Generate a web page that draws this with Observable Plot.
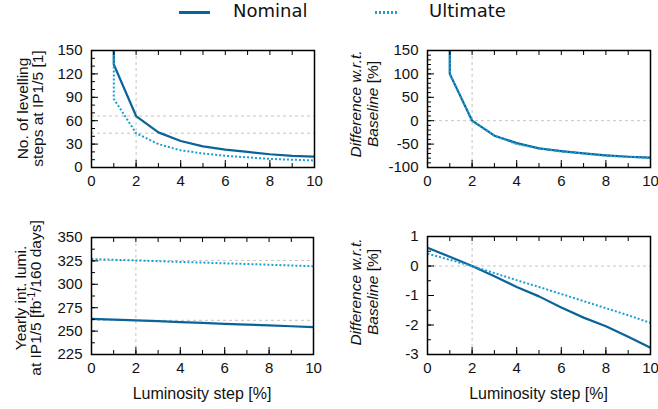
<!DOCTYPE html>
<html><head><meta charset="utf-8">
<script src="https://cdn.jsdelivr.net/npm/d3@7"></script>
<script src="https://cdn.jsdelivr.net/npm/@observablehq/plot@0.6"></script>
<style>
body{margin:0;background:#fff;}
#root{position:relative;width:658px;height:409px;overflow:hidden;background:#fff;}
.panel{position:absolute;}
.lg{position:absolute;font-family:"DejaVu Sans",sans-serif;font-size:18px;line-height:21px;color:#111;white-space:nowrap;}
.sw{position:absolute;}
</style></head>
<body><div id="root">
<span class="sw" style="left:179px;top:11px;width:31px;height:3px;background:#0a6399"></span>
<span class="lg" style="left:233px;top:0px">Nominal</span>
<span class="sw" style="left:375px;top:11px;width:24px;height:3px;background:repeating-linear-gradient(to right,#1a9ed4 0 2px,transparent 2px 4px)"></span>
<span class="lg" style="left:429px;top:0px">Ultimate</span>
</div>
<script>
// ---- data ----
const levelX = [1, 1, 2, 3, 4, 5, 6, 7, 8, 9, 10];
const levelNominal = [150, 132, 66, 45, 34, 27, 23, 20, 17, 15, 14];
const levelUltimate = [150, 88, 44, 30, 22, 18, 15, 13, 11, 10, 9];
const levelDiffNominal = [150, 100, 0, -32, -48, -59, -65, -70, -74, -77, -79];
const levelDiffUltimate = [150, 100, 0, -32, -50, -59, -66, -70, -75, -77, -80];
const lumiX = [0, 1, 2, 3, 4, 5, 6, 7, 8, 9, 10];
const lumiNominal = [263.1, 262.3, 261.5, 260.6, 259.6, 258.8, 257.8, 256.9, 256.2, 255.2, 254.3];
const lumiUltimate = [326.9, 326.2, 325.5, 324.7, 323.9, 323.2, 322.4, 321.7, 320.9, 320.1, 319.2];
const lumiDiffNominal = [0.62, 0.31, 0, -0.35, -0.71, -1.03, -1.41, -1.75, -2.04, -2.40, -2.77];
const lumiDiffUltimate = [0.42, 0.21, 0, -0.24, -0.48, -0.71, -0.95, -1.19, -1.43, -1.67, -1.93];
const xMajor = [0, 2, 4, 6, 8, 10];
const xMinor = [0, 1, 2, 3, 4, 5, 6, 7, 8, 9, 10];
const baselineStep = 2;

const C_NOM = "#0a6399", C_ULT = "#1a9ed4";
const FONT = "Liberation Sans, Arial, sans-serif";

function range(a, b, s) { const r = []; for (let v = a; v <= b + 1e-9; v += s) r.push(+v.toFixed(6)); return r; }
function pairs(xs, ys) { return xs.map((x, i) => ({x, y: ys[i]})); }

function panel(o) {
  const nom = pairs(o.xs, o.nom), ult = pairs(o.xs, o.ult);
  const plot = Plot.plot({
    width: o.width, height: o.height,
    marginLeft: o.ml, marginRight: o.mr, marginTop: o.mt, marginBottom: o.mb,
    style: {fontFamily: FONT, fontSize: "15px", color: "#111", background: "transparent", overflow: "visible"},
    x: {domain: [0, 10]},
    y: {domain: o.yDomain},
    marks: [
      Plot.ruleX([baselineStep], {stroke: "#c4c4c4", strokeDasharray: "3,3", strokeWidth: 1}),
      Plot.ruleY(o.refY, {stroke: "#c4c4c4", strokeDasharray: "3,3", strokeWidth: 1}),
      Plot.line(nom, {x: "x", y: "y", stroke: C_NOM, strokeWidth: 2.2, clip: true}),
      Plot.line(ult, {x: "x", y: "y", stroke: C_ULT, strokeWidth: 2, strokeDasharray: "2,2", strokeLinecap: "butt", strokeLinejoin: "miter", clip: true}),
      Plot.frame({stroke: "#000", strokeWidth: 1.5}),
      Plot.axisY({ticks: o.yMinor, tickSize: -4, fill: "none", stroke: "#000", label: null}),
      Plot.axisY({ticks: o.yMajor, tickSize: -7, fill: "none", stroke: "#000", label: null}),
      Plot.axisY({ticks: o.yMajor, tickSize: 0, tickPadding: 9, tickFormat: d => String(d), fill: "#111", label: null, fontSize: 15}),
      Plot.axisX({ticks: xMinor, tickSize: -4, fill: "none", stroke: "#000", label: null}),
      Plot.axisX({ticks: xMajor, tickSize: -7, fill: "none", stroke: "#000", label: null}),
      Plot.axisX({anchor: "top", ticks: xMinor, tickSize: -4, fill: "none", stroke: "#000", label: null}),
      Plot.axisX({ticks: xMajor, tickSize: 0, tickPadding: 8, tickFormat: d => String(d), fill: "#111", label: null, fontSize: 15})
    ]
  });
  const svg = d3.select(plot);
  o.ylab.forEach((parts, i) => {
    const t = svg.append("text")
      .attr("transform", `translate(${o.ylx[i]},${o.lyc}) rotate(-90)`)
      .attr("text-anchor", "middle")
      .attr("font-family", FONT).attr("font-size", 15.5).attr("fill", "#111");
    parts.forEach(p => {
      const s = t.append("tspan").text(p.t);
      if (p.i) s.attr("font-style", "italic");
      if (p.sup) s.attr("font-size", 10).attr("dy", -6);
      if (p.after) s.attr("dy", 6);
    });
  });
  if (o.xlab) {
    svg.append("text").attr("x", o.xlab[0]).attr("y", o.xlab[1])
      .attr("text-anchor", "middle").attr("font-family", FONT).attr("font-size", 16).attr("fill", "#111")
      .text("Luminosity step [%]");
  }
  const div = document.createElement("div");
  div.className = "panel";
  div.style.left = o.left + "px"; div.style.top = o.top + "px";
  div.appendChild(plot);
  document.getElementById("root").appendChild(div);
}

const diffLabel = [[{t: "Difference w.r.t.", i: true}], [{t: "Baseline", i: true}, {t: " [%]"}]];

panel({left: 0, top: 40, width: 329, height: 150, ml: 91, mr: 15, mt: 10, mb: 23,
  xs: levelX, nom: levelNominal, ult: levelUltimate, yDomain: [0, 150],
  yMajor: range(0, 150, 30), yMinor: range(0, 150, 10), refY: [levelNominal[2], levelUltimate[2]],
  ylab: [[{t: "No. of levelling"}], [{t: "steps at IP1/5 [1]"}]], ylx: [28, 43], lyc: 68.5});

panel({left: 329, top: 40, width: 329, height: 150, ml: 98, mr: 8, mt: 10, mb: 23,
  xs: levelX, nom: levelDiffNominal, ult: levelDiffUltimate, yDomain: [-100, 150],
  yMajor: range(-100, 150, 50), yMinor: range(-100, 150, 10), refY: [0],
  ylab: diffLabel, ylx: [32, 49], lyc: 64});

panel({left: 0, top: 190, width: 329, height: 219, ml: 91, mr: 16, mt: 47, mb: 55,
  xs: lumiX, nom: lumiNominal, ult: lumiUltimate, yDomain: [225, 350],
  yMajor: range(225, 350, 25), yMinor: range(225, 350, 12.5), refY: [lumiNominal[2], lumiUltimate[2]],
  ylab: [[{t: "Yearly int. lumi."}], [{t: "at IP1/5 [fb"}, {t: "-1", sup: true}, {t: "/160 days]", after: true}]],
  ylx: [26, 41], lyc: 108, xlab: [202, 209]});

panel({left: 329, top: 190, width: 329, height: 219, ml: 98, mr: 8, mt: 46, mb: 55,
  xs: lumiX, nom: lumiDiffNominal, ult: lumiDiffUltimate, yDomain: [-3, 1],
  yMajor: range(-3, 1, 1), yMinor: range(-3, 1, 0.5), refY: [0],
  ylab: diffLabel, ylx: [32, 49], lyc: 102, xlab: [209.5, 209]});
</script>
</body></html>
